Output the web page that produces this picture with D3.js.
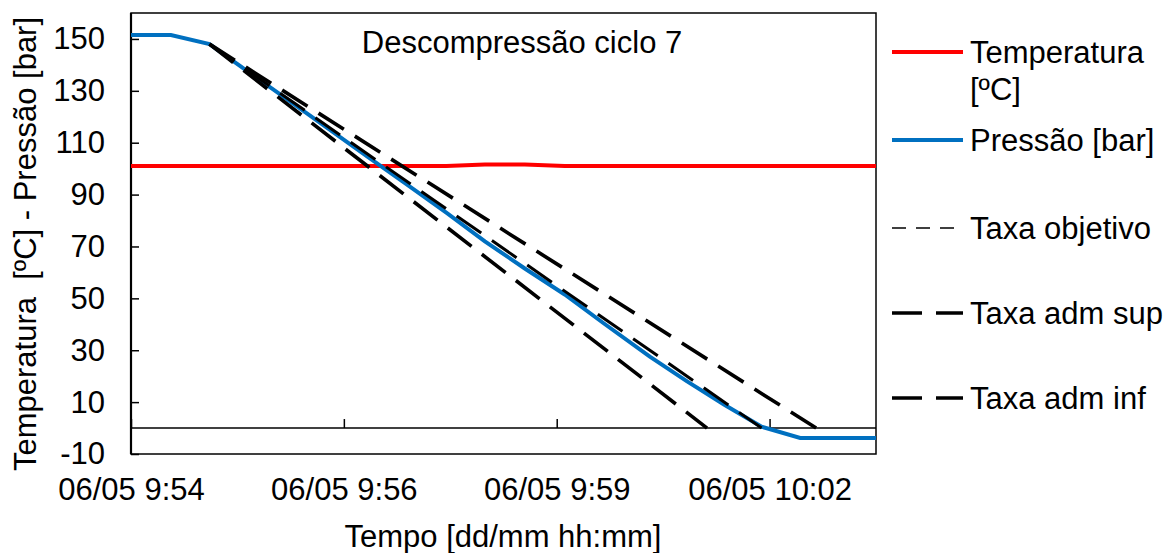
<!DOCTYPE html>
<html>
<head>
<meta charset="utf-8">
<script src="https://cdn.jsdelivr.net/npm/d3@7/dist/d3.min.js"></script>
<style>
	body { margin:0; background:#fff; }
	text { font-family:"Liberation Sans", Arial, sans-serif; fill:#000; }
</style>
</head>
<body>
<div id="chart"></div>
<script>
// dados (descompressao ciclo 7)
var tempos = ["09:54:00","09:54:30","09:54:59","09:55:29","09:55:58","09:56:28","09:56:58","09:57:27","09:57:57","09:58:26",
              "09:58:56","09:59:26","09:59:55","10:00:30","10:00:58","10:01:26","10:01:54","10:02:23","10:02:53","10:03:20"];
var temperatura = [101, 101, 101, 101, 101, 101, 101, 101, 101, 101.6,
                   101.6, 101, 101, 101, 101, 101, 101, 101, 101, 101];
var pressao = [151.5, 151.5, 148, 137, 126.5, 115.5, 104.5, 94, 83, 72,
               61.5, 51.5, 40.5, 27.5, 18, 9, 0.5, -3.8, -3.8, -3.8];

// retas das taxas (inicio e fim)
var taxaObjetivoT = ["09:54:59","10:01:54"];
var taxaObjetivo = [148, 0];
var taxaSupT = ["09:54:59","10:01:13"];
var taxaSup = [148, 0];
var taxaInfT = ["09:54:59","10:02:35"];
var taxaInf = [148, 0];

var xDominio = ["09:54:00","10:03:20"];
var xTicks = ["09:54:00","09:56:40","09:59:20","10:02:00"];
var xLabels = ["06/05 9:54","06/05 9:56","06/05 9:59","06/05 10:02"];
var yDominio = [-10, 160];
var yTicks = [-10, 10, 30, 50, 70, 90, 110, 130, 150];

var legendas = ["Temperatura", "Pressão [bar]", "Taxa objetivo", "Taxa adm sup", "Taxa adm inf"];

var W = 1172, H = 553;
var margin = {top:13, right:296, bottom:99, left:131};
var width = W - margin.left - margin.right,
    height = H - margin.top - margin.bottom;
var fs = 31;

var parse = d3.timeParse("%H:%M:%S");

var x = d3.scaleTime().domain(xDominio.map(parse)).range([0, width]);
var y = d3.scaleLinear().domain(yDominio).range([height, 0]);

var svg = d3.select("#chart").append("svg")
	.attr("width", W)
	.attr("height", H)
	.style("display", "block");

var g = svg.append("g")
	.attr("transform", "translate(" + margin.left + "," + margin.top + ")");

// eixo y (ticks para dentro)
var yAxis = g.append("g")
	.call(d3.axisLeft(y).tickValues(yTicks).tickSize(-8).tickPadding(26)
		.tickFormat(function(d){ return String(d); }))
	.style("font-size", fs + "px")
	.attr("font-family", null);
yAxis.select(".domain").remove();
yAxis.selectAll("line").attr("stroke", "#000").attr("stroke-width", 1.5);

// eixo x no zero
var xAxis = g.append("g")
	.attr("transform", "translate(0," + y(0) + ")")
	.call(d3.axisBottom(x).tickValues(xTicks.map(parse)).tickSize(-9).tickFormat(""));
xAxis.select(".domain").remove();
xAxis.selectAll("line").attr("stroke", "#000").attr("stroke-width", 1.5);

g.append("line")
	.attr("x1", 0).attr("x2", width)
	.attr("y1", y(0)).attr("y2", y(0))
	.attr("stroke", "#000").attr("stroke-width", 1.5);

// rotulos do eixo x em baixo
var xLab = g.append("g")
	.attr("transform", "translate(0," + height + ")")
	.call(d3.axisBottom(x).tickValues(xTicks.map(parse)).tickSize(0).tickPadding(24)
		.tickFormat(function(d, i){ return xLabels[i]; }))
	.style("font-size", fs + "px")
	.attr("font-family", null);
xLab.select(".domain").remove();

// moldura da area do grafico
g.append("rect")
	.attr("width", width).attr("height", height)
	.attr("fill", "none").attr("stroke", "#000").attr("stroke-width", 1.5);
g.append("line")
	.attr("x1", 0).attr("x2", 0).attr("y1", 0).attr("y2", height)
	.attr("stroke", "#000").attr("stroke-width", 2.2);

var line = d3.line()
	.x(function(d){ return x(d.t); })
	.y(function(d){ return y(d.v); });

var juntar = function(ts, vs){
	return ts.map(function(t, i){ return {t: parse(t), v: vs[i]}; });
};

var series = [
	{dados: juntar(tempos, temperatura), cor: "#FF0000", w: 4, dash: null},
	{dados: juntar(tempos, pressao), cor: "#0070C0", w: 4, dash: null},
	{dados: juntar(taxaObjetivoT, taxaObjetivo), cor: "#000", w: 3, dash: "30,13"},
	{dados: juntar(taxaSupT, taxaSup), cor: "#000", w: 3.6, dash: "30,13"},
	{dados: juntar(taxaInfT, taxaInf), cor: "#000", w: 3.6, dash: "30,13"}
];

g.selectAll(".serie")
	.data(series).enter()
	.append("path")
	.attr("class", "serie")
	.attr("fill", "none")
	.attr("stroke", function(d){ return d.cor; })
	.attr("stroke-width", function(d){ return d.w; })
	.attr("stroke-dasharray", function(d){ return d.dash; })
	.attr("d", function(d){ return line(d.dados); });

// titulo
svg.append("text")
	.attr("x", 522).attr("y", 53)
	.attr("text-anchor", "middle")
	.style("font-size", fs + "px")
	.text("Descompressão ciclo 7");

svg.append("text")
	.attr("x", margin.left + 372).attr("y", 547)
	.attr("text-anchor", "middle")
	.style("font-size", fs + "px")
	.text("Tempo [dd/mm hh:mm]");

svg.append("text")
	.attr("transform", "translate(36," + (margin.top + 231) + ") rotate(-90)")
	.attr("text-anchor", "middle")
	.style("font-size", fs + "px")
	.style("white-space", "pre")
	.text("Temperatura  [ºC] - Pressão [bar]");

// legenda
var legY = [52, 140, 228, 313, 398];
var legEstilo = [
	{cor: "#FF0000", w: 4, dash: null},
	{cor: "#0070C0", w: 4, dash: null},
	{cor: "#000", w: 1.3, dash: "14,10"},
	{cor: "#000", w: 3.6, dash: "30,14"},
	{cor: "#000", w: 3.6, dash: "30,14"}
];
var leg = svg.append("g").attr("class", "legenda");
legendas.forEach(function(nome, i){
	leg.append("line")
		.attr("x1", 892).attr("x2", 963)
		.attr("y1", legY[i]).attr("y2", legY[i])
		.attr("stroke", legEstilo[i].cor)
		.attr("stroke-width", legEstilo[i].w)
		.attr("stroke-dasharray", legEstilo[i].dash);
	leg.append("text")
		.attr("x", 970).attr("y", legY[i] + 11)
		.style("font-size", fs + "px")
		.text(nome);
});
leg.append("text")
	.attr("x", 970).attr("y", legY[0] + 48)
	.style("font-size", fs + "px")
	.text("[ºC]");
</script>
</body>
</html>
